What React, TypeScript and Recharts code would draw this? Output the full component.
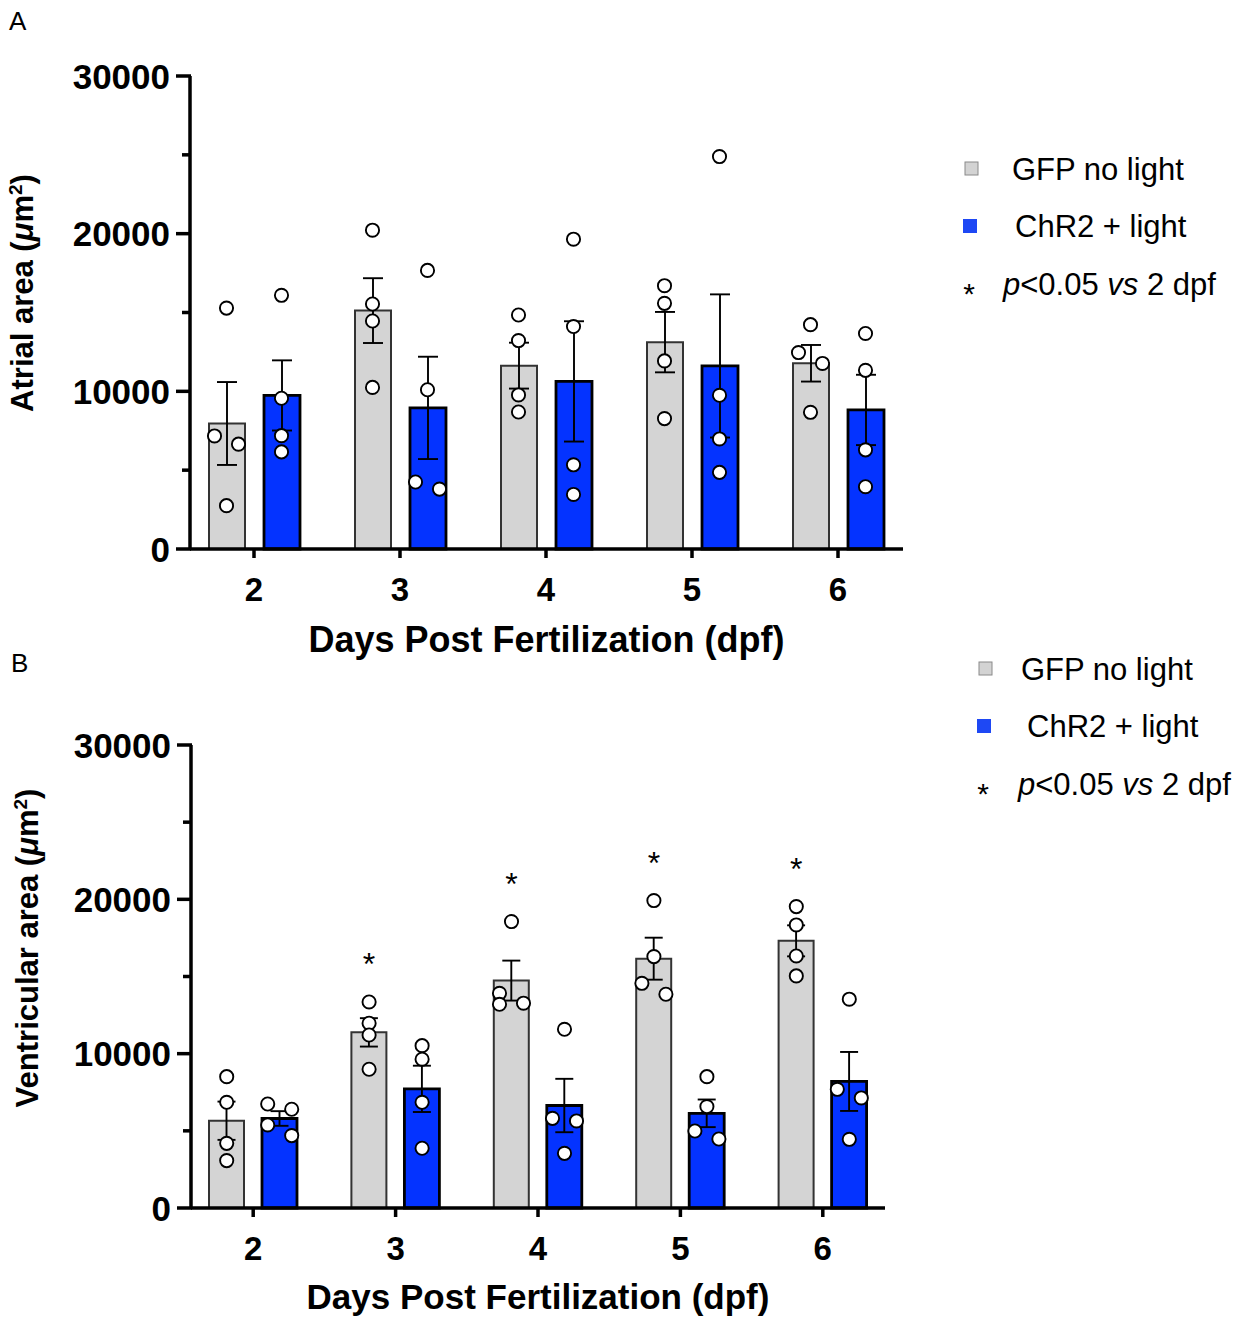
import React from "react";
import { ComposedChart, Bar, ErrorBar, Scatter, XAxis, YAxis } from "recharts";

const W = 1250;
const H = 1318;
const FONT = '"Liberation Sans", Arial, Helvetica, sans-serif';

const days = ["2", "3", "4", "5", "6"];
const yTicks = [0, 5000, 10000, 15000, 20000, 25000, 30000];

// panel A - atrial area (µm²): mean, SEM and the four fish of each group
const atrialGfpMean = [7960, 15120, 11630, 13120, 11780];
const atrialGfpSem = [2630, 2055, 1455, 1915, 1160];
const atrialChr2Mean = [9740, 8950, 10630, 11610, 8820];
const atrialChr2Sem = [2225, 3245, 3815, 4540, 2230];
const atrialGfpPoints = [
  [15280, 7170, 6650, 2750],
  [20220, 15540, 14460, 10250],
  [14840, 13220, 9770, 8690],
  [16700, 15580, 11930, 8270],
  [14230, 12460, 11770, 8670],
];
const atrialChr2Points = [
  [16090, 9560, 7190, 6160],
  [17670, 10100, 4250, 3800],
  [19650, 14110, 5340, 3460],
  [24890, 9750, 6980, 4860],
  [13670, 11330, 6290, 3950],
];
const atrialSig = [false, false, false, false, false];

// panel B - ventricular area (µm²)
const ventGfpMean = [5655, 11380, 14735, 16155, 17310];
const ventGfpSem = [1240, 920, 1295, 1360, 1005];
const ventChr2Mean = [5800, 7720, 6640, 6135, 8200];
const ventChr2Sem = [475, 1500, 1730, 895, 1910];
const ventGfpPoints = [
  [8510, 6850, 4190, 3070],
  [13350, 11970, 11210, 8990],
  [18560, 13910, 13270, 13200],
  [19920, 16290, 14560, 13850],
  [19530, 18340, 16330, 15040],
];
const ventChr2Points = [
  [6740, 6400, 5380, 4690],
  [10520, 9640, 6850, 3870],
  [11580, 5810, 5640, 3540],
  [8510, 6570, 4990, 4470],
  [13530, 7690, 7130, 4450],
];
const ventSig = [false, true, true, true, true];

type Row = {
  day: string;
  gfp: number;
  gfpErr: number;
  chr2: number;
  chr2Err: number;
  gfpPts: number[];
  chr2Pts: number[];
  sig: boolean;
};

function buildRows(
  gm: number[], gs: number[], cm: number[], cs: number[],
  gp: number[][], cp: number[][], sig: boolean[]
): Row[] {
  return days.map((day, i) => ({
    day,
    gfp: gm[i],
    gfpErr: gs[i],
    chr2: cm[i],
    chr2Err: cs[i],
    gfpPts: gp[i],
    chr2Pts: cp[i],
    sig: sig[i],
  }));
}

const atrialRows = buildRows(atrialGfpMean, atrialGfpSem, atrialChr2Mean, atrialChr2Sem, atrialGfpPoints, atrialChr2Points, atrialSig);
const ventRows = buildRows(ventGfpMean, ventGfpSem, ventChr2Mean, ventChr2Sem, ventGfpPoints, ventChr2Points, ventSig);

// prism-like spreading: points that would overlap vertically get pushed left / right
function spread(values: number[], pxPerUnit: number): number[] {
  const order = values.map((_, i) => i).sort((a, b) => values[b] - values[a]);
  const offsets = values.map(() => 0);
  let cluster: number[] = [order[0]];
  const flush = () => {
    if (cluster.length > 1) {
      cluster.forEach((idx, k) => {
        offsets[idx] = k % 2 === 0 ? -12 : 12;
      });
    }
  };
  for (let k = 1; k < order.length; k++) {
    const prev = order[k - 1];
    const cur = order[k];
    if ((values[prev] - values[cur]) * pxPerUnit < 11.3) {
      cluster.push(cur);
    } else {
      flush();
      cluster = [cur];
    }
  }
  flush();
  return offsets;
}

function YTick(props: any) {
  const { x, y, payload } = props;
  const major = payload.value % 10000 === 0;
  return (
    <g>
      <line x1={x - (major ? 14 : 8)} x2={x + 1} y1={y} y2={y} stroke="#000" strokeWidth={3.5} />
      {major && (
        <text x={x - 20} y={y} dy="0.36em" textAnchor="end" fontSize={35} fontWeight="bold" fill="#000">
          {payload.value}
        </text>
      )}
    </g>
  );
}

function XTick(props: any) {
  const { x, y, payload } = props;
  return (
    <text x={x} y={y + 43} textAnchor="middle" fontSize={33} fontWeight="bold" fill="#000">
      {payload.value}
    </text>
  );
}

interface PanelProps {
  rows: Row[];
  top: number;
  height: number;
  plotTop: number;
  plotBottom: number;
  plotLeft: number;
  plotRight: number;
  pad: { left: number; right: number };
  barSize: number;
  barGap: number;
  cap: number;
}

function Panel({ rows, top, height, plotTop, plotBottom, plotLeft, plotRight, pad, barSize, barGap, cap }: PanelProps) {
  const pxPerUnit = (plotBottom - plotTop) / 30000;
  const shift = (barSize + barGap) / 2;

  const dot = (key: "gfpPts" | "chr2Pts", i: number, side: number) => (p: any) => {
    if (p.cx == null || p.cy == null) return <g />;
    const offs = spread(p.payload[key], pxPerUnit);
    return <circle cx={p.cx + side + offs[i]} cy={p.cy} r={6.6} fill="#fff" stroke="#000" strokeWidth={1.9} />;
  };

  const star = (p: any) => {
    if (!p.payload || !p.payload.sig || p.cy == null) return <g />;
    return (
      <text x={p.cx - shift} y={p.cy - 44 + 17} textAnchor="middle" fontSize={32} fill="#000">
        *
      </text>
    );
  };

  // axes get a 1px box (a 0px axis is not drawn at all)
  return (
    <div style={{ position: "absolute", left: 0, top, width: W, height }}>
      <ComposedChart
        width={W}
        height={height}
        data={rows}
        barGap={barGap}
        margin={{
          top: plotTop - top,
          right: W - plotRight,
          bottom: top + height - plotBottom - 1,
          left: plotLeft - 1,
        }}
      >
        <XAxis
          dataKey="day"
          type="category"
          height={1}
          padding={pad}
          interval={0}
          axisLine={{ stroke: "#000", strokeWidth: 3.5 }}
          tickLine={{ stroke: "#000", strokeWidth: 3.5 }}
          tickSize={9}
          tickMargin={0}
          tick={<XTick />}
        />
        <YAxis
          width={1}
          domain={[0, 30000]}
          ticks={yTicks}
          interval={0}
          axisLine={{ stroke: "#000", strokeWidth: 3.5 }}
          tickLine={false}
          tickSize={0}
          tickMargin={0}
          tick={<YTick />}
        />
        <Bar dataKey="gfp" barSize={barSize} fill="#d4d4d4" stroke="#333" strokeWidth={2} isAnimationActive={false}>
          <ErrorBar dataKey="gfpErr" width={cap} stroke="#000" strokeWidth={1.9} direction="y" />
        </Bar>
        <Bar dataKey="chr2" barSize={barSize} fill="#0433ff" stroke="#000" strokeWidth={2.8} isAnimationActive={false}>
          <ErrorBar dataKey="chr2Err" width={cap} stroke="#000" strokeWidth={1.9} direction="y" />
        </Bar>
        {[0, 1, 2, 3].map((i) => (
          <Scatter
            key={"g" + i}
            dataKey={(r: Row) => r.gfpPts[i]}
            shape={dot("gfpPts", i, -shift)}
            legendType="none"
            isAnimationActive={false}
          />
        ))}
        {[0, 1, 2, 3].map((i) => (
          <Scatter
            key={"c" + i}
            dataKey={(r: Row) => r.chr2Pts[i]}
            shape={dot("chr2Pts", i, shift)}
            legendType="none"
            isAnimationActive={false}
          />
        ))}
        <Scatter dataKey={(r: Row) => Math.max(...r.gfpPts)} shape={star} legendType="none" isAnimationActive={false} />
      </ComposedChart>
    </div>
  );
}

function YTitle({ x, y, text }: { x: number; y: number; text: string }) {
  return (
    <text
      x={x}
      y={y}
      dy="0.35em"
      transform={`rotate(-90, ${x}, ${y})`}
      textAnchor="middle"
      fontSize={31}
      fontWeight="bold"
      fill="#000"
    >
      {text} (<tspan fontStyle="italic">μ</tspan>m<tspan dy={-11} fontSize={19}>2</tspan>
      <tspan dy={11}>)</tspan>
    </text>
  );
}

function LegendBlock({ x, y, textX }: { x: number; y: number; textX: number[] }) {
  // y = centre of the first square; rows are ~58px apart
  return (
    <g fontSize={31} fill="#000">
      <rect x={x} y={y - 7} width={13} height={13} fill="#d3d3d3" stroke="#8a8a8a" strokeWidth={1} />
      <text x={textX[0]} y={y + 11}>GFP no light</text>
      <rect x={x - 2} y={y + 50} width={14} height={14} fill="#1e48f4" />
      <text x={textX[1]} y={y + 68}>ChR2 + light</text>
      <text x={x + 4} y={y + 135} textAnchor="middle" fontSize={30}>*</text>
      <text x={textX[2]} y={y + 126}>
        <tspan fontStyle="italic">p</tspan>&lt;0.05 <tspan fontStyle="italic">vs</tspan> 2 dpf
      </text>
    </g>
  );
}

export default function App() {
  return (
    <div style={{ position: "absolute", left: 0, top: 0, width: W, height: H, background: "#fff", fontFamily: FONT }}>
      <Panel
        rows={atrialRows}
        top={0}
        height={680}
        plotTop={76}
        plotBottom={549}
        plotLeft={190}
        plotRight={903}
        pad={{ left: -9, right: -8 }}
        barSize={36}
        barGap={19}
        cap={10}
      />
      <Panel
        rows={ventRows}
        top={680}
        height={638}
        plotTop={745}
        plotBottom={1208}
        plotLeft={191}
        plotRight={885}
        pad={{ left: -9, right: -9 }}
        barSize={35}
        barGap={18}
        cap={9}
      />
      <svg width={W} height={H} style={{ position: "absolute", left: 0, top: 0, pointerEvents: "none" }}>
        <text x={9} y={30} fontSize={26} fill="#000">A</text>
        <text x={11} y={672} fontSize={26} fill="#000">B</text>
        <YTitle x={22} y={293} text="Atrial area" />
        <YTitle x={27} y={948} text="Ventricular area" />
        <text x={546.5} y={652} textAnchor="middle" fontSize={36} fontWeight="bold" fill="#000">
          Days Post Fertilization (dpf)
        </text>
        <text x={538} y={1309} textAnchor="middle" fontSize={35} fontWeight="bold" fill="#000">
          Days Post Fertilization (dpf)
        </text>
        <LegendBlock x={965} y={169} textX={[1012, 1015, 1003]} />
        <LegendBlock x={979} y={669} textX={[1021, 1027, 1018]} />
      </svg>
    </div>
  );
}
